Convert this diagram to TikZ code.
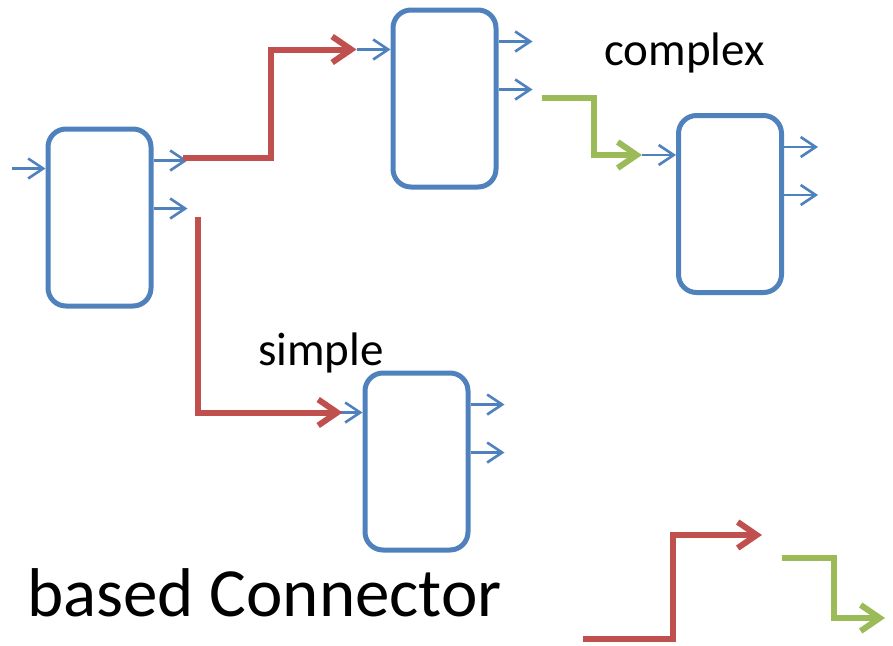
\documentclass[tikz,border=0pt]{standalone}
\usepackage{fontspec}
\setmainfont{Carlito}
\usetikzlibrary{arrows.meta}
\definecolor{boxblue}{HTML}{4F81BD}
\definecolor{linkred}{HTML}{C0504D}
\definecolor{linkgreen}{HTML}{9BBB59}
\tikzstyle{block}=[draw=boxblue,line width=5pt,rounded corners=18pt,minimum width=103pt,minimum height=177pt,inner sep=0pt]
\tikzstyle{port}=[draw=boxblue,line width=2.6pt,-{Straight Barb[length=15pt,width=20pt]}]
\tikzstyle{link}=[line width=6pt,-{Straight Barb[length=19pt,width=26pt]}]
\tikzstyle{label}=[anchor=base west,inner sep=0pt,font=\fontsize{47}{52}\selectfont]

\begin{document}
\begin{tikzpicture}[x=1pt,y=-1pt]
  \useasboundingbox (0,0) rectangle (893,645);
  % blocks
  \node[block] (a) at (99.5,217.5) {};
  \node[block] (b) at (444.5,98.5) {};
  \node[block] (c) at (730,204) {};
  \node[block] (d) at (416.5,461.5) {};
  % ports
  \foreach \b in {a,b,c,d} {
    \coordinate (\b-in) at ([xshift=-34pt,yshift=-42pt]\b.north west);
    \coordinate (\b-o1) at ([xshift=34pt,yshift=-34pt]\b.north east);
    \coordinate (\b-o2) at ([xshift=34pt,yshift=-82pt]\b.north east);
    \draw[port] (\b-in) -- ([yshift=-42pt]\b.north west);
    \draw[port] ([yshift=-34pt]\b.north east) -- (\b-o1);
    \draw[port] ([yshift=-82pt]\b.north east) -- (\b-o2);
  }
  % connectors
  \draw[link,linkred] ([xshift=-5pt,yshift=3pt]a-o1) -- ++(88,0) |- (b-in);
  \draw[link,linkred] ([xshift=10pt,yshift=-8pt]a-o2) |- ([xshift=14pt]d-in);
  \draw[link,linkgreen] ([xshift=9pt,yshift=-8pt]b-o2) -- ++(52,0) |- (c-in);
  % legend
  \coordinate (r0) at (583,639);
  \coordinate (r1) at (762,535);
  \coordinate (g0) at (782,558);
  \coordinate (g1) at (885,618);
  \draw[link,linkred] (r0) -- ++(90,0) |- (r1);
  \draw[link,linkgreen] (g0) -- ++(52,0) |- (g1);
  % texts
  \node[label] (complex) at (604,65) {complex};
  \node[label] (simple) at (258,365) {simple};
  \node[label,font=\fontsize{69}{80}\selectfont] (title) at (27,616) {based Connector};
\end{tikzpicture}
\end{document}
